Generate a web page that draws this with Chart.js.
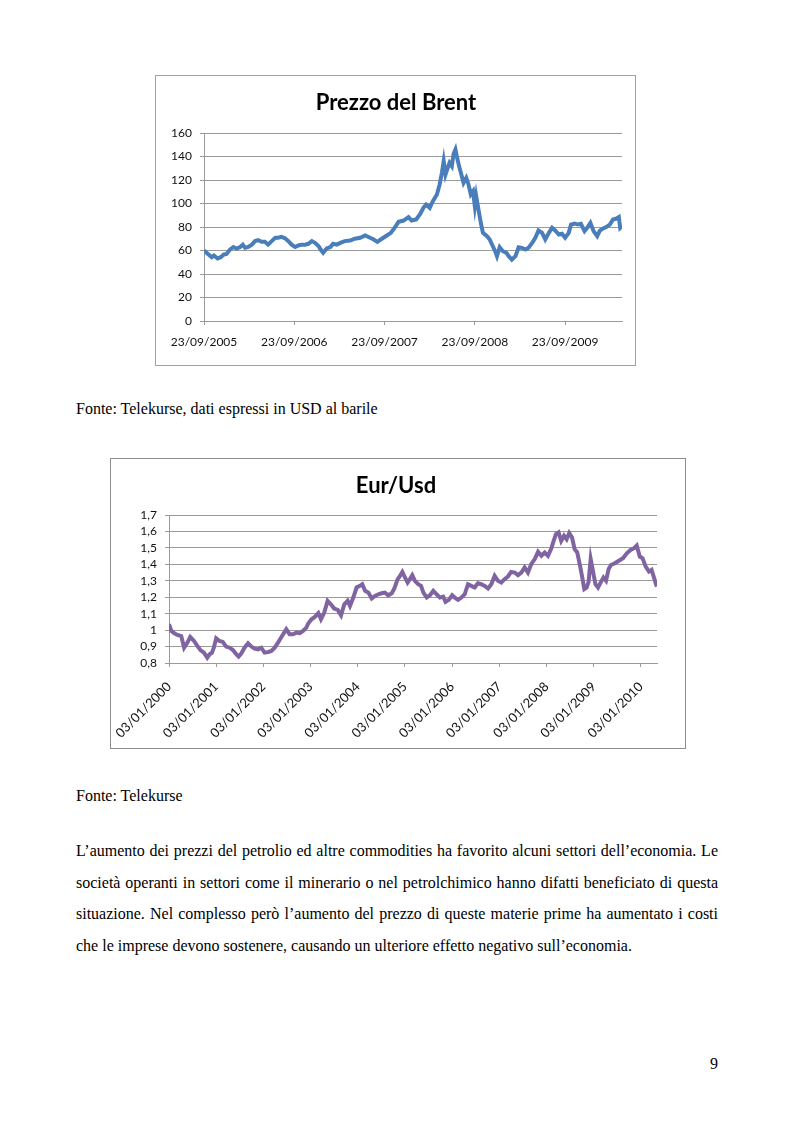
<!DOCTYPE html>
<html>
<head>
<meta charset="utf-8">
<script src="https://cdn.jsdelivr.net/npm/chart.js@4.4.0/dist/chart.umd.min.js"></script>
<style>
  body { margin: 0; background: #fff; }
  .page { position: relative; width: 793px; height: 1123px; }
  .box { position: absolute; box-sizing: border-box; border: 1px solid #a0a0a0; }
  canvas { position: absolute; }
  .title { position: absolute; width: 300px; text-align: center; font-family: Lato, sans-serif; font-weight: bold; font-size: 22px; line-height: 26px; color: #000; }
  .txt { position: absolute; font-family: "Liberation Serif", "Times New Roman", serif; font-size: 16px; line-height: 16px; color: #000; white-space: nowrap; }
  .just { width: 642px; text-align: justify; text-align-last: justify; }
</style>
</head>
<body>
<div class="page">
  <div class="box" style="left:155px;top:75px;width:481px;height:291px"></div>
  <canvas id="brent" width="480" height="290" style="left:155px;top:75px"></canvas>
  <div class="title" style="left:246px;top:89px">Prezzo del Brent</div>
  <div class="txt" style="left:76px;top:401px">Fonte: Telekurse, dati espressi in USD al barile</div>

  <div class="box" style="left:110px;top:458px;width:576px;height:291px;border-color:#8c8c8c"></div>
  <canvas id="eurusd" width="583" height="290" style="left:102px;top:458px"></canvas>
  <div class="title" style="left:246px;top:472px">Eur/Usd</div>
  <div class="txt" style="left:76px;top:788px">Fonte: Telekurse</div>

  <div class="txt just" style="left:76px;top:843px">L’aumento dei prezzi del petrolio ed altre commodities ha favorito alcuni settori dell’economia. Le</div>
  <div class="txt just" style="left:76px;top:875px">società operanti in settori come il minerario o nel petrolchimico hanno difatti beneficiato di questa</div>
  <div class="txt just" style="left:76px;top:906px">situazione. Nel complesso però l’aumento del prezzo di queste materie prime ha aumentato i costi</div>
  <div class="txt" style="left:76px;top:938px">che le imprese devono sostenere, causando un ulteriore effetto negativo sull’economia.</div>

  <div class="txt" style="left:710px;top:1056px">9</div>
</div>
<script>
// Brent: x = years since 23/09/2005
const brentYears = [0.00, 0.05, 0.085, 0.11, 0.15, 0.185, 0.22, 0.25, 0.29, 0.325, 0.36, 0.40, 0.43, 0.455, 0.49,
  0.53, 0.565, 0.60, 0.64, 0.675, 0.71, 0.75, 0.79, 0.82, 0.86, 0.90, 0.935, 0.97, 1.01, 1.045, 1.08, 1.12,
  1.155, 1.195, 1.23, 1.27, 1.29, 1.32, 1.36, 1.40, 1.43, 1.47, 1.51, 1.56, 1.62, 1.67, 1.73, 1.785, 1.84,
  1.88, 1.92, 1.97, 2.025, 2.07, 2.105, 2.155, 2.21, 2.265, 2.30, 2.35, 2.395, 2.43, 2.46, 2.50, 2.535, 2.58,
  2.61, 2.635, 2.655, 2.675, 2.70, 2.72, 2.745, 2.765, 2.785, 2.80, 2.825, 2.845, 2.875, 2.905, 2.93, 2.955,
  2.98, 3.00, 3.015, 3.04, 3.07, 3.09, 3.135, 3.165, 3.19, 3.225, 3.245, 3.275, 3.31, 3.35, 3.375, 3.41, 3.45,
  3.485, 3.52, 3.56, 3.595, 3.635, 3.67, 3.705, 3.745, 3.78, 3.82, 3.855, 3.89, 3.93, 3.965, 4.00, 4.04, 4.065,
  4.105, 4.14, 4.175, 4.215, 4.25, 4.28, 4.315, 4.355, 4.385, 4.42, 4.455, 4.495, 4.53, 4.57, 4.595, 4.61, 4.63];
const brentPrice = [60, 56.6, 54.3, 55.7, 53.2, 54.3, 56.6, 57, 61, 63, 61.7, 63, 65, 62.3, 63,
  65, 68, 68.8, 67.4, 67.4, 65, 68, 70.8, 70.8, 71.6, 70.2, 68, 65, 63, 64.3, 65, 65,
  65.7, 68, 66.5, 63.7, 61, 58, 61.7, 63, 65.7, 65, 66.5, 68, 68.5, 70, 70.8, 72.8, 70.8,
  69.4, 67.4, 70, 72.8, 75, 78.7, 84.4, 85.5, 88.4, 85.5, 86.4, 91.2, 96.3, 99.1, 96.3, 102, 107.7,
  116.2, 126.1, 136, 124.7, 130.4, 134.6, 131.8, 142.3, 146, 140.3, 131.8, 126.1, 117.6, 121.8, 116.2, 107.7,
  110.5, 97.7, 106.3, 94.9, 82.1, 75, 72.2, 69.4, 65.1, 59.4, 55.2, 62.8, 59.4, 58, 55.2, 52.3, 55.2,
  62.8, 62.3, 60.9, 62.3, 66.5, 70.8, 77, 75, 69.4, 75, 79.3, 77, 73.6, 74.2, 70.8, 75, 82.1,
  83, 82.1, 82.7, 76.5, 79.9, 83.5, 76.5, 72.2, 77, 78.7, 79.9, 82.1, 86.4, 87.2, 88.4, 79.3, 80.7];
const brentTickPos = [0, 1, 2, 3, 4];
const brentTickLabels = ['23/09/2005', '23/09/2006', '23/09/2007', '23/09/2008', '23/09/2009'];
const brentYTicks = [0, 20, 40, 60, 80, 100, 120, 140, 160];

// Eur/Usd: x = years since 03/01/2000
const eurYears = [0.00, 0.05, 0.12, 0.19, 0.26, 0.32, 0.39, 0.45, 0.53, 0.60, 0.67, 0.74, 0.81, 0.86, 0.91, 0.95,
  1.00, 1.07, 1.14, 1.21, 1.285, 1.355, 1.425, 1.475, 1.53, 1.60, 1.675, 1.745, 1.815, 1.885, 1.955, 2.025,
  2.10, 2.17, 2.24, 2.31, 2.395, 2.485, 2.555, 2.625, 2.70, 2.77, 2.84, 2.91, 2.95, 3.02, 3.09, 3.165, 3.22,
  3.29, 3.36, 3.43, 3.50, 3.575, 3.645, 3.715, 3.785, 3.835, 3.905, 3.975, 4.045, 4.095, 4.155, 4.225, 4.295,
  4.365, 4.435, 4.505, 4.575, 4.645, 4.72, 4.775, 4.845, 4.895, 4.945, 5.00, 5.055, 5.105, 5.155, 5.21, 5.28,
  5.34, 5.39, 5.46, 5.53, 5.60, 5.67, 5.74, 5.81, 5.86, 5.93, 6.00, 6.055, 6.125, 6.195, 6.265, 6.335, 6.405,
  6.475, 6.545, 6.615, 6.69, 6.76, 6.83, 6.90, 6.97, 7.04, 7.11, 7.18, 7.25, 7.325, 7.395, 7.465, 7.535, 7.605,
  7.675, 7.75, 7.82, 7.89, 7.96, 8.03, 8.10, 8.15, 8.20, 8.255, 8.31, 8.37, 8.425, 8.48, 8.54, 8.595, 8.65,
  8.71, 8.75, 8.80, 8.85, 8.89, 8.935, 8.975, 9.035, 9.09, 9.145, 9.205, 9.26, 9.315, 9.365, 9.435, 9.505, 9.62,
  9.70, 9.78, 9.855, 9.91, 9.975, 10.035, 10.10, 10.17, 10.225, 10.27, 10.335];
const eurRate = [1.036, 0.995, 0.979, 0.969, 0.964, 0.893, 0.924, 0.958, 0.934, 0.904, 0.877, 0.863, 0.832, 0.853, 0.863, 0.893,
  0.950, 0.934, 0.928, 0.900, 0.893, 0.879, 0.853, 0.839, 0.857, 0.893, 0.920, 0.900, 0.887, 0.883, 0.893, 0.863,
  0.867, 0.873, 0.893, 0.924, 0.964, 1.005, 0.975, 0.975, 0.985, 0.981, 0.995, 1.015, 1.040, 1.066, 1.080, 1.103, 1.066,
  1.107, 1.178, 1.157, 1.131, 1.123, 1.090, 1.157, 1.178, 1.147, 1.198, 1.259, 1.269, 1.279, 1.239, 1.228, 1.192,
  1.208, 1.218, 1.224, 1.228, 1.212, 1.224, 1.253, 1.310, 1.330, 1.354, 1.320, 1.289, 1.310, 1.334, 1.300, 1.279,
  1.269, 1.228, 1.198, 1.212, 1.239, 1.218, 1.198, 1.204, 1.172, 1.184, 1.212, 1.198, 1.184, 1.198, 1.218, 1.279, 1.269,
  1.259, 1.285, 1.279, 1.269, 1.253, 1.279, 1.330, 1.300, 1.289, 1.310, 1.326, 1.354, 1.350, 1.334, 1.350, 1.381, 1.350,
  1.401, 1.432, 1.476, 1.452, 1.472, 1.452, 1.496, 1.543, 1.584, 1.594, 1.543, 1.574, 1.553, 1.590, 1.563, 1.492, 1.472,
  1.391, 1.330, 1.249, 1.259, 1.293, 1.432, 1.371, 1.279, 1.259, 1.289, 1.320, 1.300, 1.371, 1.396, 1.405, 1.417, 1.437,
  1.467, 1.487, 1.498, 1.514, 1.447, 1.437, 1.386, 1.356, 1.366, 1.325, 1.265];
const eurTickPos = [0, 1, 2, 3, 4, 5, 6, 7, 8, 9, 10];
const eurTickLabels = ['03/01/2000', '03/01/2001', '03/01/2002', '03/01/2003', '03/01/2004', '03/01/2005',
  '03/01/2006', '03/01/2007', '03/01/2008', '03/01/2009', '03/01/2010'];
const eurYTicks = [0.8, 0.9, 1.0, 1.1, 1.2, 1.3, 1.4, 1.5, 1.6, 1.7];
const eurYLabels = ['0,8', '0,9', '1', '1,1', '1,2', '1,3', '1,4', '1,5', '1,6', '1,7'];

const GRID = '#9a9a9a';

function toPoints(xs, ys) {
  return xs.map((x, i) => ({ x: x, y: ys[i] }));
}

function makeChart(id, cfg) {
  return new Chart(document.getElementById(id), {
    type: 'line',
    data: {
      datasets: [{
        data: toPoints(cfg.xs, cfg.ys),
        borderColor: cfg.color,
        borderWidth: 4,
        pointRadius: 0,
        tension: 0,
        fill: false,
      }]
    },
    options: {
      responsive: false,
      animation: false,
      layout: { padding: { left: 0, top: cfg.padTop, right: cfg.padRight, bottom: 0 } },
      plugins: {
        legend: { display: false },
        tooltip: { enabled: false },
      },
      scales: {
        x: {
          type: 'linear',
          min: 0,
          max: cfg.xMax,
          afterBuildTicks: s => { s.ticks = cfg.xTicks.map(v => ({ value: v })); },
          afterFit: s => { s.height = cfg.xHeight; },
          grid: { drawOnChartArea: false, color: GRID, tickLength: 4 },
          border: { color: GRID },
          ticks: {
            color: '#111',
            font: { family: 'Lato', size: cfg.fontX },
            padding: cfg.xPad,
            autoSkip: false,
            maxRotation: cfg.rot,
            minRotation: cfg.rot,
            callback: (v, i) => cfg.xLabels[i],
          }
        },
        y: {
          min: cfg.yTicks[0],
          max: cfg.yTicks[cfg.yTicks.length - 1],
          afterBuildTicks: s => { s.ticks = cfg.yTicks.map(v => ({ value: v })); },
          afterFit: s => { s.width = cfg.yWidth; },
          grid: { color: GRID, tickLength: 4 },
          border: { color: GRID },
          ticks: {
            color: '#111',
            font: { family: 'Lato', size: 12 },
            padding: 8,
            autoSkip: false,
            callback: (v, i) => cfg.yLabels[i],
          }
        }
      }
    }
  });
}

makeChart('brent', {
  xs: brentYears, ys: brentPrice, color: '#4a7ebb',
  xMax: 4.63, xTicks: brentTickPos, xLabels: brentTickLabels,
  yTicks: brentYTicks, yLabels: brentYTicks.map(String),
  padTop: 58, padRight: 13, xHeight: 44, yWidth: 49, xPad: 10, rot: 0, fontX: 12,
});

makeChart('eurusd', {
  xs: eurYears, ys: eurRate, color: '#8064a2',
  xMax: 10.34, xTicks: eurTickPos, xLabels: eurTickLabels,
  yTicks: eurYTicks, yLabels: eurYLabels,
  padTop: 57, padRight: 28, xHeight: 85, yWidth: 67, xPad: 12, rot: 45, fontX: 13,
});
</script>
</body>
</html>
